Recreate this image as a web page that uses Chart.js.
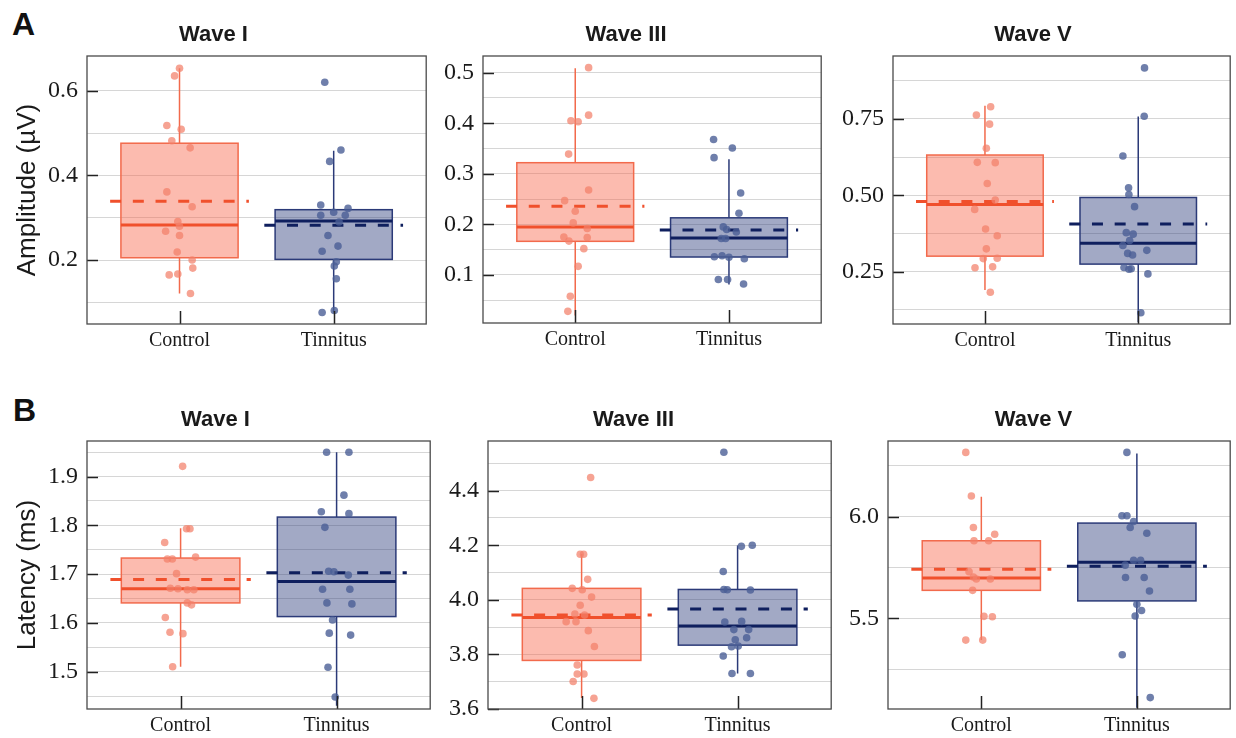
<!DOCTYPE html>
<html lang="en">
<head>
    <meta charset="UTF-8">
    <title>ABR Amplitude and Latency</title>
    <style>
        body {
            margin: 0;
            background: #fff;
            width: 1236px;
            height: 738px;
            overflow: hidden;
            position: relative;
            font-family: 'Liberation Sans', Arial, sans-serif;
        }
        .panel-letter {
            position: absolute;
            font-size: 32px;
            font-weight: bold;
            line-height: 1;
            color: #111;
        }
        .cell {
            position: absolute;
        }
    </style>
</head>
<body>
    <div class="panel-letter" style="left:12px; top:8px;">A</div>
    <div class="panel-letter" style="left:13px; top:394px;">B</div>

    <script src="https://cdn.jsdelivr.net/npm/chart.js"></script>
    <script>
        const categories = ['Control', 'Tinnitus'];

        // box stats are [low whisker, q1, median, q3, high whisker, mean]

        // Amplitude - Wave I
        const ampI_range = [0.049, 0.682];
        const ampI_ticks = ['0.2', '0.4', '0.6'];
        const ampI_ctrl_y = [0.653, 0.635, 0.518, 0.509, 0.482, 0.465, 0.361, 0.326, 0.291, 0.280, 0.268, 0.258, 0.219, 0.200, 0.181, 0.165, 0.167, 0.121];
        const ampI_ctrl_dx = [0, -0.032, -0.082, 0.011, -0.05, 0.069, -0.082, 0.082, -0.011, 0, -0.09, 0, -0.015, 0.082, 0.086, -0.067, -0.011, 0.071];
        const ampI_ctrl_box = [0.121, 0.2055, 0.283, 0.476, 0.653, 0.339];
        const ampI_tin_y = [0.620, 0.460, 0.433, 0.330, 0.322, 0.313, 0.306, 0.306, 0.290, 0.258, 0.233, 0.221, 0.196, 0.186, 0.156, 0.076, 0.081];
        const ampI_tin_dx = [-0.058, 0.047, -0.026, -0.084, 0.093, 0, -0.084, 0.075, 0.035, -0.037, 0.028, -0.075, 0.017, 0.004, 0.017, -0.075, 0.004];
        const ampI_tin_box = [0.076, 0.2016, 0.292, 0.319, 0.458, 0.282];

        // Amplitude - Wave III
        const ampIII_range = [0.005, 0.533];
        const ampIII_ticks = ['0.1', '0.2', '0.3', '0.4', '0.5'];
        const ampIII_ctrl_y = [0.510, 0.416, 0.405, 0.403, 0.339, 0.268, 0.247, 0.226, 0.203, 0.192, 0.175, 0.167, 0.174, 0.152, 0.117, 0.058, 0.028];
        const ampIII_ctrl_dx = [0.087, 0.087, -0.028, 0.019, -0.043, 0.087, -0.069, 0, -0.013, 0.078, -0.074, -0.041, 0.078, 0.056, 0.019, -0.032, -0.048];
        const ampIII_ctrl_box = [0.02, 0.1665, 0.195, 0.322, 0.509, 0.236];
        const ampIII_tin_y = [0.368, 0.351, 0.332, 0.262, 0.222, 0.195, 0.185, 0.190, 0.172, 0.172, 0.136, 0.138, 0.135, 0.132, 0.091, 0.091, 0.082];
        const ampIII_tin_dx = [-0.1, 0.022, -0.097, 0.076, 0.065, -0.037, 0.048, -0.015, -0.05, -0.022, -0.095, -0.045, 0, 0.1, -0.069, -0.009, 0.095];
        const ampIII_tin_box = [0.081, 0.1355, 0.173, 0.213, 0.329, 0.189];

        // Amplitude - Wave V
        const ampV_range = [0.079, 0.956];
        const ampV_ticks = ['0.25', '0.50', '0.75'];
        const ampV_ctrl_y = [0.790, 0.763, 0.733, 0.654, 0.608, 0.607, 0.539, 0.485, 0.454, 0.390, 0.368, 0.325, 0.293, 0.294, 0.263, 0.266, 0.183];
        const ampV_ctrl_dx = [0.037, -0.056, 0.03, 0.009, -0.05, 0.067, 0.015, 0.067, -0.067, 0.004, 0.08, 0.009, -0.011, 0.08, -0.065, 0.05, 0.035];
        const ampV_ctrl_box = [0.19, 0.301, 0.470, 0.632, 0.793, 0.480];
        const ampV_tin_y = [0.917, 0.759, 0.629, 0.525, 0.503, 0.463, 0.378, 0.373, 0.352, 0.336, 0.320, 0.310, 0.305, 0.264, 0.258, 0.260, 0.243, 0.116];
        const ampV_tin_dx = [0.041, 0.039, -0.1, -0.063, -0.061, -0.024, -0.078, -0.033, -0.056, -0.1, 0.056, -0.069, -0.037, -0.093, -0.061, -0.046, 0.063, 0.017];
        const ampV_tin_box = [0.085, 0.275, 0.343, 0.493, 0.758, 0.406];

        // Latency - Wave I
        const latI_range = [1.4235, 1.973];
        const latI_ticks = ['1.5', '1.6', '1.7', '1.8', '1.9'];
        const latI_ctrl_y = [1.921, 1.793, 1.793, 1.765, 1.731, 1.731, 1.735, 1.701, 1.671, 1.670, 1.668, 1.668, 1.641, 1.637, 1.611, 1.581, 1.578, 1.510];
        const latI_ctrl_dx = [0.013, 0.038, 0.06, -0.102, -0.085, -0.053, 0.096, -0.026, -0.066, -0.017, 0.043, 0.085, 0.043, 0.07, -0.098, -0.068, 0.015, -0.051];
        const latI_ctrl_box = [1.51, 1.641, 1.670, 1.733, 1.794, 1.689];
        const latI_tin_y = [1.950, 1.950, 1.862, 1.828, 1.824, 1.796, 1.706, 1.705, 1.698, 1.669, 1.669, 1.641, 1.639, 1.606, 1.579, 1.575, 1.509, 1.448];
        const latI_tin_dx = [-0.064, 0.079, 0.047, -0.098, 0.079, -0.075, -0.051, -0.017, 0.075, -0.09, 0.085, -0.062, 0.098, -0.026, -0.047, 0.09, -0.055, -0.009];
        const latI_tin_box = [1.43, 1.613, 1.685, 1.817, 1.950, 1.703];

        // Latency - Wave III
        const latIII_range = [3.6, 4.582];
        const latIII_ticks = ['3.6', '3.8', '4.0', '4.2', '4.4'];
        const latIII_ctrl_y = [4.448, 4.167, 4.167, 4.075, 4.042, 4.037, 4.010, 3.980, 3.948, 3.944, 3.920, 3.920, 3.887, 3.829, 3.761, 3.728, 3.728, 3.701, 3.639];
        const latIII_ctrl_dx = [0.058, -0.009, 0.013, 0.039, -0.06, 0.004, 0.064, -0.009, -0.043, 0.019, -0.099, -0.036, 0.043, 0.082, -0.028, -0.028, 0.015, -0.054, 0.079];
        const latIII_ctrl_box = [3.64, 3.778, 3.935, 4.042, 4.168, 3.944];
        const latIII_tin_y = [4.541, 4.196, 4.200, 4.104, 4.038, 4.037, 4.036, 3.919, 3.921, 3.891, 3.891, 3.861, 3.854, 3.828, 3.831, 3.794, 3.730, 3.730];
        const latIII_tin_dx = [-0.088, 0.024, 0.094, -0.092, -0.088, -0.066, 0.082, -0.082, 0.026, -0.024, 0.071, 0.058, -0.015, -0.039, 0.004, -0.092, -0.036, 0.082];
        const latIII_tin_box = [3.73, 3.834, 3.904, 4.038, 4.199, 3.966];

        // Latency - Wave V
        const latV_range = [5.054, 6.373];
        const latV_ticks = ['5.5', '6.0'];
        const latV_ctrl_y = [6.317, 6.102, 5.947, 5.914, 5.882, 5.882, 5.730, 5.704, 5.694, 5.694, 5.638, 5.510, 5.508, 5.393, 5.393];
        const latV_ctrl_dx = [-0.1, -0.064, -0.051, 0.086, -0.047, 0.047, -0.079, -0.051, -0.032, 0.058, -0.056, 0.017, 0.071, -0.1, 0.009];
        const latV_ctrl_box = [5.393, 5.638, 5.699, 5.882, 6.099, 5.742];
        const latV_tin_y = [6.317, 6.005, 6.005, 5.977, 5.947, 5.919, 5.786, 5.786, 5.762, 5.701, 5.701, 5.635, 5.569, 5.539, 5.512, 5.321, 5.110];
        const latV_tin_dx = [-0.064, -0.096, -0.064, -0.021, -0.043, 0.064, -0.021, 0.024, -0.075, -0.073, 0.047, 0.081, 0, 0.03, -0.011, -0.094, 0.086];
        const latV_tin_box = [5.06, 5.586, 5.776, 5.969, 6.312, 5.757];

        // colours
        const ctrlStyle = { dot: 'rgba(242, 128, 105, 0.72)', fill: 'rgba(248, 105, 78, 0.45)', edge: '#f26a4c', line: '#f0502c' };
        const tinStyle = { dot: 'rgba(75, 95, 150, 0.8)', fill: 'rgba(40, 55, 120, 0.43)', edge: '#2b3a78', line: '#0f1f5e' };

        const serif = "'Liberation Serif', 'Times New Roman', serif";
        const sans = "'Liberation Sans', Arial, sans-serif";

        // layout of the six cells (canvas box + axis sizes)
        const panels = [
            { title: 'Wave I', yTitle: 'Amplitude (µV)', range: ampI_range, step: 0.1, labels: ampI_ticks,
              ctrl: [ampI_ctrl_y, ampI_ctrl_dx, ampI_ctrl_box], tin: [ampI_tin_y, ampI_tin_dx, ampI_tin_box],
              left: 0, top: 0, w: 430, h: 364, yw: 87, xh: 40 },
            { title: 'Wave III', range: ampIII_range, step: 0.05, labels: ampIII_ticks,
              ctrl: [ampIII_ctrl_y, ampIII_ctrl_dx, ampIII_ctrl_box], tin: [ampIII_tin_y, ampIII_tin_dx, ampIII_tin_box],
              left: 430, top: 0, w: 395, h: 363, yw: 53, xh: 40 },
            { title: 'Wave V', range: ampV_range, step: 0.125, labels: ampV_ticks,
              ctrl: [ampV_ctrl_y, ampV_ctrl_dx, ampV_ctrl_box], tin: [ampV_tin_y, ampV_tin_dx, ampV_tin_box],
              left: 835, top: 0, w: 399, h: 364, yw: 58, xh: 40 },
            { title: 'Wave I', yTitle: 'Latency (ms)', range: latI_range, step: 0.05, labels: latI_ticks,
              ctrl: [latI_ctrl_y, latI_ctrl_dx, latI_ctrl_box], tin: [latI_tin_y, latI_tin_dx, latI_tin_box],
              left: 0, top: 385, w: 434, h: 353, yw: 87, xh: 29 },
            { title: 'Wave III', range: latIII_range, step: 0.1, labels: latIII_ticks,
              ctrl: [latIII_ctrl_y, latIII_ctrl_dx, latIII_ctrl_box], tin: [latIII_tin_y, latIII_tin_dx, latIII_tin_box],
              left: 435, top: 385, w: 400, h: 353, yw: 53, xh: 29 },
            { title: 'Wave V', range: latV_range, step: 0.25, labels: latV_ticks,
              ctrl: [latV_ctrl_y, latV_ctrl_dx, latV_ctrl_box], tin: [latV_tin_y, latV_tin_dx, latV_tin_box],
              left: 836, top: 385, w: 398, h: 353, yw: 52, xh: 29 }
        ];

        function toPoints(ys, dxs, pos) {
            return ys.map((v, i) => ({ x: pos + dxs[i], y: v }));
        }

        // boxes, whiskers, medians, means + frame and inward ticks
        function makeBoxPlugin(p) {
            const groups = [
                { pos: 0, box: p.ctrl[2], st: ctrlStyle },
                { pos: 1, box: p.tin[2], st: tinStyle }
            ];
            return {
                id: 'boxes',
                beforeDatasetsDraw(chart) {
                    const { ctx, chartArea, scales: { x, y } } = chart;
                    ctx.save();
                    ctx.beginPath();
                    ctx.rect(chartArea.left, chartArea.top, chartArea.width, chartArea.height);
                    ctx.clip();
                    groups.forEach(g => {
                        const [lo, q1, med, q3, hi, mean] = g.box;
                        const xl = x.getPixelForValue(g.pos - 0.38);
                        const xr = x.getPixelForValue(g.pos + 0.38);
                        const xc = x.getPixelForValue(g.pos);
                        const y1 = y.getPixelForValue(q1);
                        const y3 = y.getPixelForValue(q3);

                        ctx.setLineDash([]);
                        ctx.strokeStyle = g.st.edge;
                        ctx.lineWidth = 1.5;
                        ctx.beginPath();
                        ctx.moveTo(xc, y3);
                        ctx.lineTo(xc, y.getPixelForValue(hi));
                        ctx.moveTo(xc, y1);
                        ctx.lineTo(xc, y.getPixelForValue(lo));
                        ctx.stroke();

                        ctx.fillStyle = g.st.fill;
                        ctx.fillRect(xl, y3, xr - xl, y1 - y3);
                        ctx.strokeRect(xl, y3, xr - xl, y1 - y3);

                        ctx.strokeStyle = g.st.line;
                        ctx.lineWidth = 3;
                        ctx.beginPath();
                        ctx.moveTo(xl, y.getPixelForValue(med));
                        ctx.lineTo(xr, y.getPixelForValue(med));
                        ctx.stroke();

                        ctx.setLineDash([11, 11.7]);
                        ctx.beginPath();
                        ctx.moveTo(x.getPixelForValue(g.pos - 0.45), y.getPixelForValue(mean));
                        ctx.lineTo(x.getPixelForValue(g.pos + 0.45), y.getPixelForValue(mean));
                        ctx.stroke();
                        ctx.setLineDash([]);
                    });
                    ctx.restore();
                },
                afterDatasetsDraw(chart) {
                    const { ctx, chartArea, scales: { x, y } } = chart;
                    ctx.save();
                    ctx.strokeStyle = '#222';
                    ctx.lineWidth = 1.5;
                    ctx.beginPath();
                    p.labels.forEach(l => {
                        const yy = Math.round(y.getPixelForValue(Number(l))) + 0.5;
                        ctx.moveTo(chartArea.left, yy);
                        ctx.lineTo(chartArea.left + 11, yy);
                    });
                    [0, 1].forEach(v => {
                        const xx = Math.round(x.getPixelForValue(v)) + 0.5;
                        ctx.moveTo(xx, chartArea.bottom);
                        ctx.lineTo(xx, chartArea.bottom - 13);
                    });
                    ctx.stroke();
                    ctx.strokeStyle = '#4a4a4a';
                    ctx.lineWidth = 1.3;
                    ctx.strokeRect(chartArea.left, chartArea.top, chartArea.width, chartArea.height);
                    ctx.restore();
                }
            };
        }

        panels.forEach(p => {
            const cell = document.createElement('div');
            cell.className = 'cell';
            cell.style.left = p.left + 'px';
            cell.style.top = p.top + 'px';
            const canvas = document.createElement('canvas');
            canvas.width = p.w;
            canvas.height = p.h;
            cell.appendChild(canvas);
            document.body.appendChild(cell);

            new Chart(canvas.getContext('2d'), {
                type: 'scatter',
                data: {
                    datasets: [
                        { data: toPoints(p.ctrl[0], p.ctrl[1], 0), backgroundColor: ctrlStyle.dot, borderWidth: 0, pointRadius: 3.8, pointHoverRadius: 3.8 },
                        { data: toPoints(p.tin[0], p.tin[1], 1), backgroundColor: tinStyle.dot, borderWidth: 0, pointRadius: 3.8, pointHoverRadius: 3.8 }
                    ]
                },
                options: {
                    responsive: false,
                    animation: false,
                    events: [],
                    layout: { padding: { top: 0, right: 3, bottom: 0, left: 0 } },
                    plugins: {
                        legend: { display: false },
                        tooltip: { enabled: false },
                        title: {
                            display: true,
                            text: p.title,
                            color: '#1a1a1a',
                            font: { family: sans, size: 22, weight: 'bold', lineHeight: 1.2 },
                            padding: { top: 21.5, bottom: 8.1 }
                        }
                    },
                    scales: {
                        x: {
                            type: 'linear',
                            min: -0.6,
                            max: 1.6,
                            grid: { display: false, drawTicks: false },
                            border: { display: false },
                            afterBuildTicks: s => { s.ticks = [0, 1].map(v => ({ value: v })); },
                            afterFit: s => { s.height = p.xh; },
                            ticks: {
                                autoSkip: false,
                                maxRotation: 0,
                                padding: 5,
                                color: '#1a1a1a',
                                font: { family: serif, size: 20 },
                                callback: v => categories[v]
                            }
                        },
                        y: {
                            type: 'linear',
                            min: p.range[0],
                            max: p.range[1],
                            grid: { color: '#d6d6d6', lineWidth: 1, drawTicks: false },
                            border: { display: false },
                            afterBuildTicks: s => {
                                const vals = [];
                                let k = Math.ceil(p.range[0] / p.step - 1e-9);
                                while (k * p.step <= p.range[1] + 1e-9) {
                                    vals.push({ value: +(k * p.step).toFixed(4) });
                                    k++;
                                }
                                s.ticks = vals;
                            },
                            afterFit: s => { s.width = p.yw; },
                            ticks: {
                                autoSkip: false,
                                padding: 9,
                                color: '#1a1a1a',
                                font: { family: serif, size: 24 },
                                callback: v => {
                                    const hit = p.labels.find(l => Math.abs(Number(l) - v) < 1e-6);
                                    return hit || '';
                                }
                            },
                            title: p.yTitle ? {
                                display: true,
                                text: p.yTitle,
                                color: '#1a1a1a',
                                font: { family: sans, size: 26 },
                                padding: { top: 12, bottom: 0 }
                            } : { display: false }
                        }
                    }
                },
                plugins: [makeBoxPlugin(p)]
            });
        });
    </script>
</body>
</html>
